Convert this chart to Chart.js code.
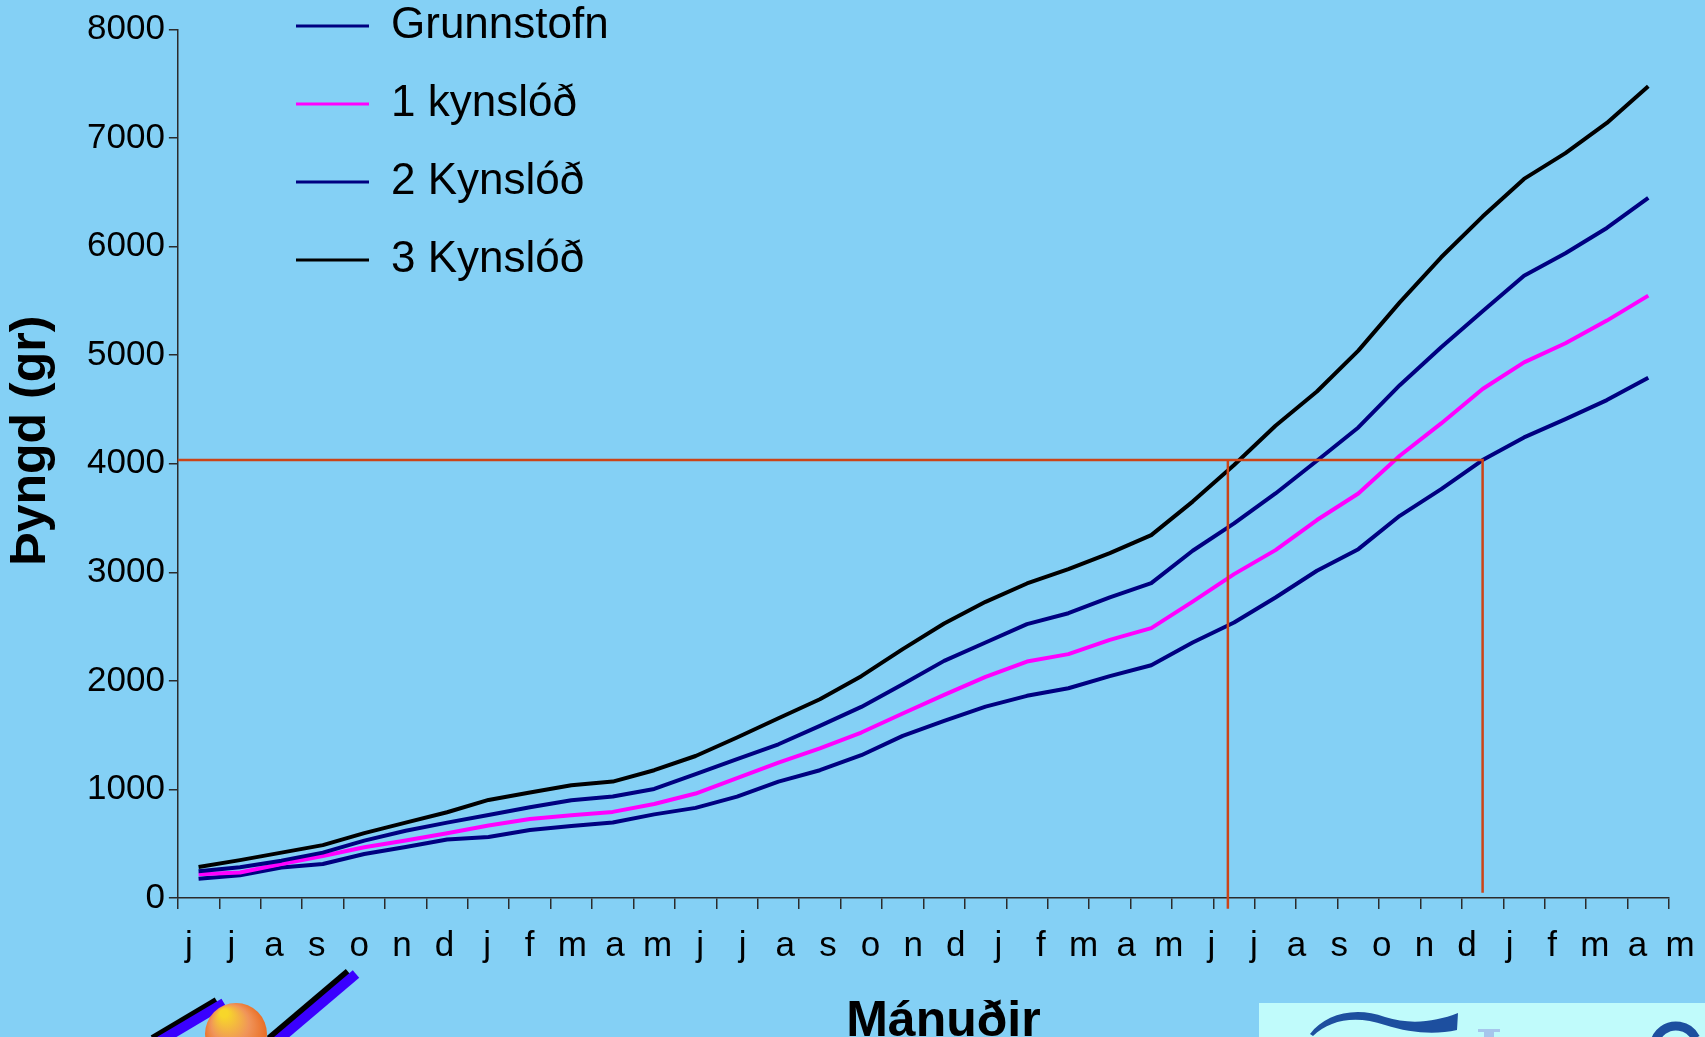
<!DOCTYPE html>
<html>
<head>
<meta charset="utf-8">
<script src="https://cdn.jsdelivr.net/npm/chart.js@4.4.1/dist/chart.umd.min.js"></script>
<style>
  html, body { margin: 0; padding: 0; background: #84d0f5; overflow: hidden; }
  canvas { display: block; }
</style>
</head>
<body>
<canvas id="vaxtarlinurit" width="1705" height="1052"></canvas>
<script>
// Mánuðir: júní -> maí, þrjú ár
var months = ['j', 'j', 'a', 's', 'o', 'n', 'd', 'j', 'f', 'm', 'a', 'm',
              'j', 'j', 'a', 's', 'o', 'n', 'd', 'j', 'f', 'm', 'a', 'm',
              'j', 'j', 'a', 's', 'o', 'n', 'd', 'j', 'f', 'm', 'a', 'm'];

// Þyngd (gr) hverrar kynslóðar
var grunnstofn = [178, 210, 280, 313, 405, 470, 538, 562, 627, 663, 695, 770,
                  830, 934, 1072, 1177, 1315, 1493, 1631, 1763, 1862, 1932, 2043, 2144,
                  2353, 2537, 2768, 3014, 3213, 3520, 3766, 4033, 4242, 4411, 4586, 4792];
var kynslod1 = [218, 235, 313, 387, 467, 530, 597, 667, 728, 762, 793, 866,
                962, 1103, 1247, 1379, 1524, 1699, 1871, 2037, 2178, 2246, 2378, 2485,
                2730, 2983, 3204, 3481, 3726, 4073, 4371, 4688, 4933, 5109, 5318, 5548];
var kynslod2 = [246, 283, 344, 418, 528, 620, 694, 765, 835, 901, 935, 1004,
                1140, 1278, 1416, 1585, 1760, 1969, 2184, 2353, 2522, 2623, 2768, 2900,
                3198, 3450, 3726, 4027, 4334, 4723, 5072, 5404, 5732, 5938, 6171, 6448];
var kynslod3 = [286, 349, 418, 487, 597, 694, 790, 903, 971, 1038, 1072, 1177,
                1308, 1478, 1656, 1831, 2043, 2292, 2528, 2728, 2897, 3029, 3176, 3342,
                3651, 3988, 4350, 4665, 5041, 5486, 5901, 6276, 6623, 6860, 7139, 7477];

var yTicks = [0, 1000, 2000, 3000, 4000, 5000, 6000, 7000, 8000];

// rauðu viðmiðunarlínurnar (4 kg): hvar línurnar skera
var refLevel = 4033;
var refCross = [24.85, 31];
var refEnd = [-100, 48];

var yTitle = 'Þyngd (gr)';
var xTitle = 'Mánuðir';

Chart.defaults.font.family = "'Liberation Sans', Arial, sans-serif";
Chart.defaults.color = '#000';

var axisColor = '#2b2b2b';

function serie(label, data, color, order) {
    return {
        label: label, data: data,
        borderColor: color, backgroundColor: color,
        borderWidth: 4, borderJoinStyle: 'round',
        pointRadius: 0, pointHoverRadius: 0,
        tension: 0, fill: false, order: order
    };
}

function guide(points) {
    return {
        isGuide: true, data: points, xAxisID: 'xr',
        borderColor: '#cc4418', borderWidth: 2.5,
        pointRadius: 0, pointHoverRadius: 0,
        tension: 0, fill: false, clip: false, order: -1
    };
}

// færa skýringar og titla á sinn stað
var placement = {
    id: 'placement',
    afterLayout: function (chart) {
        var lg = chart.legend;
        lg.left = 262; lg.top = -30;
        lg.right = lg.left + 700; lg.bottom = lg.top + 450;
        chart.boxes.forEach(function (b) {
            if (!b.options) return;
            if (b.options.text === yTitle) { b.top -= 23; b.bottom -= 23; }
            if (b.options.text === xTitle) { b.left += 20; b.right += 20; }
        });
    }
};

// merkin neðst á glærunni
var logos = {
    id: 'logos',
    afterDraw: function (chart) {
        var ctx = chart.ctx;
        var h = 1037;
        ctx.save();
        function stroke(x0, y0, x1, y1) {
            ctx.lineCap = 'butt';
            ctx.strokeStyle = '#000'; ctx.lineWidth = 13;
            ctx.beginPath(); ctx.moveTo(x0 - 4, y0); ctx.lineTo(x1 - 4, y1); ctx.stroke();
            ctx.strokeStyle = '#3a00ff'; ctx.lineWidth = 10;
            ctx.beginPath(); ctx.moveTo(x0 + 2, y0); ctx.lineTo(x1 + 2, y1); ctx.stroke();
        }
        stroke(158, h + 4, 222, h - 34);
        stroke(275, h + 4, 354, h - 63);
        var g = ctx.createRadialGradient(224, h - 24, 4, 236, h - 3, 34);
        g.addColorStop(0, '#f7d62a');
        g.addColorStop(0.5, '#f0945a');
        g.addColorStop(1, '#e8661a');
        ctx.fillStyle = g;
        ctx.beginPath(); ctx.arc(236, h - 3, 31, 0, Math.PI * 2); ctx.fill();

        ctx.fillStyle = '#c0fbfb';
        ctx.fillRect(1259, h - 34, 446, 43);
        ctx.fillStyle = '#1d4f9f';
        ctx.beginPath();
        ctx.moveTo(1310, h - 3);
        ctx.bezierCurveTo(1325, h - 23, 1355, h - 31, 1385, h - 20);
        ctx.bezierCurveTo(1410, h - 12, 1435, h - 15, 1458, h - 24);
        ctx.lineTo(1457, h - 7);
        ctx.bezierCurveTo(1435, h - 2, 1410, h - 4, 1385, h - 12);
        ctx.bezierCurveTo(1355, h - 22, 1330, h - 17, 1313, h - 1);
        ctx.closePath();
        ctx.fill();
        ctx.fillStyle = '#a6c6ec';
        ctx.fillRect(1484, h - 7, 10, 16);
        ctx.fillRect(1478, h - 8, 22, 3);
        ctx.strokeStyle = '#1d4f9f'; ctx.lineWidth = 9;
        ctx.beginPath(); ctx.arc(1676, h + 11, 22, Math.PI * 1.05, Math.PI * 1.85); ctx.stroke();
        ctx.restore();
    }
};

var defaultLabels = Chart.defaults.plugins.legend.labels.generateLabels;

var ctx = document.getElementById('vaxtarlinurit').getContext('2d');
var vaxtarlinurit = new Chart(ctx, {
    type: 'line',
    data: {
        labels: months,
        datasets: [
            serie('Grunnstofn', grunnstofn, '#000080', 4),
            serie('1 kynslóð', kynslod1, '#ff00ff', 3),
            serie('2 Kynslóð', kynslod2, '#000080', 2),
            serie('3 Kynslóð', kynslod3, '#000000', 1),
            guide([{x: -0.5, y: refLevel}, {x: refCross[1], y: refLevel}, {x: refCross[1], y: refEnd[1]}]),
            guide([{x: refCross[0], y: refLevel}, {x: refCross[0], y: refEnd[0]}])
        ]
    },
    options: {
        responsive: false,
        animation: false,
        events: [],
        layout: { padding: { top: 29.4, right: 36, left: 0, bottom: 0 } },
        scales: {
            x: {
                type: 'category', offset: true,
                grid: { offset: true, drawOnChartArea: false, tickLength: 11, color: axisColor, lineWidth: 1.5 },
                border: { color: axisColor, width: 1.5 },
                ticks: { display: false }
            },
            xl: {
                type: 'category', labels: months, position: 'bottom', weight: 1, offset: false,
                grid: { display: false, drawTicks: false },
                border: { display: false },
                ticks: { autoSkip: false, maxRotation: 0, labelOffset: 11, padding: 16, font: { size: 35 } }
            },
            xr: { type: 'linear', display: false, min: -0.5, max: months.length - 0.5 },
            y: {
                min: yTicks[0], max: yTicks[yTicks.length - 1],
                afterBuildTicks: function (axis) {
                    axis.ticks = yTicks.map(function (v) { return { value: v }; });
                },
                ticks: { padding: 4, font: { size: 35 }, callback: function (v) { return String(v); } },
                grid: { drawOnChartArea: false, tickLength: 9, color: axisColor, lineWidth: 1.5 },
                border: { color: axisColor, width: 1.5 }
            }
        },
        plugins: {
            legend: {
                position: 'chartArea', align: 'start',
                labels: {
                    font: { size: 44 }, color: '#000',
                    boxWidth: 73, boxHeight: 3, padding: 34,
                    generateLabels: function (chart) {
                        return defaultLabels(chart).map(function (l) { l.lineWidth = 0; return l; });
                    },
                    filter: function (item, data) { return !data.datasets[item.datasetIndex].isGuide; },
                    sort: function (a, b) { return a.datasetIndex - b.datasetIndex; }
                }
            },
            title: {
                display: true, text: yTitle, position: 'left', fullSize: false,
                font: { size: 50, weight: 'bold' }, color: '#000',
                padding: { top: 1, bottom: 22 }
            },
            subtitle: {
                display: true, text: xTitle, position: 'bottom', fullSize: false,
                font: { size: 50, weight: 'bold' }, color: '#000',
                padding: { top: 9, bottom: 0 }
            },
            tooltip: { enabled: false }
        }
    },
    plugins: [placement, logos]
});
</script>
</body>
</html>
